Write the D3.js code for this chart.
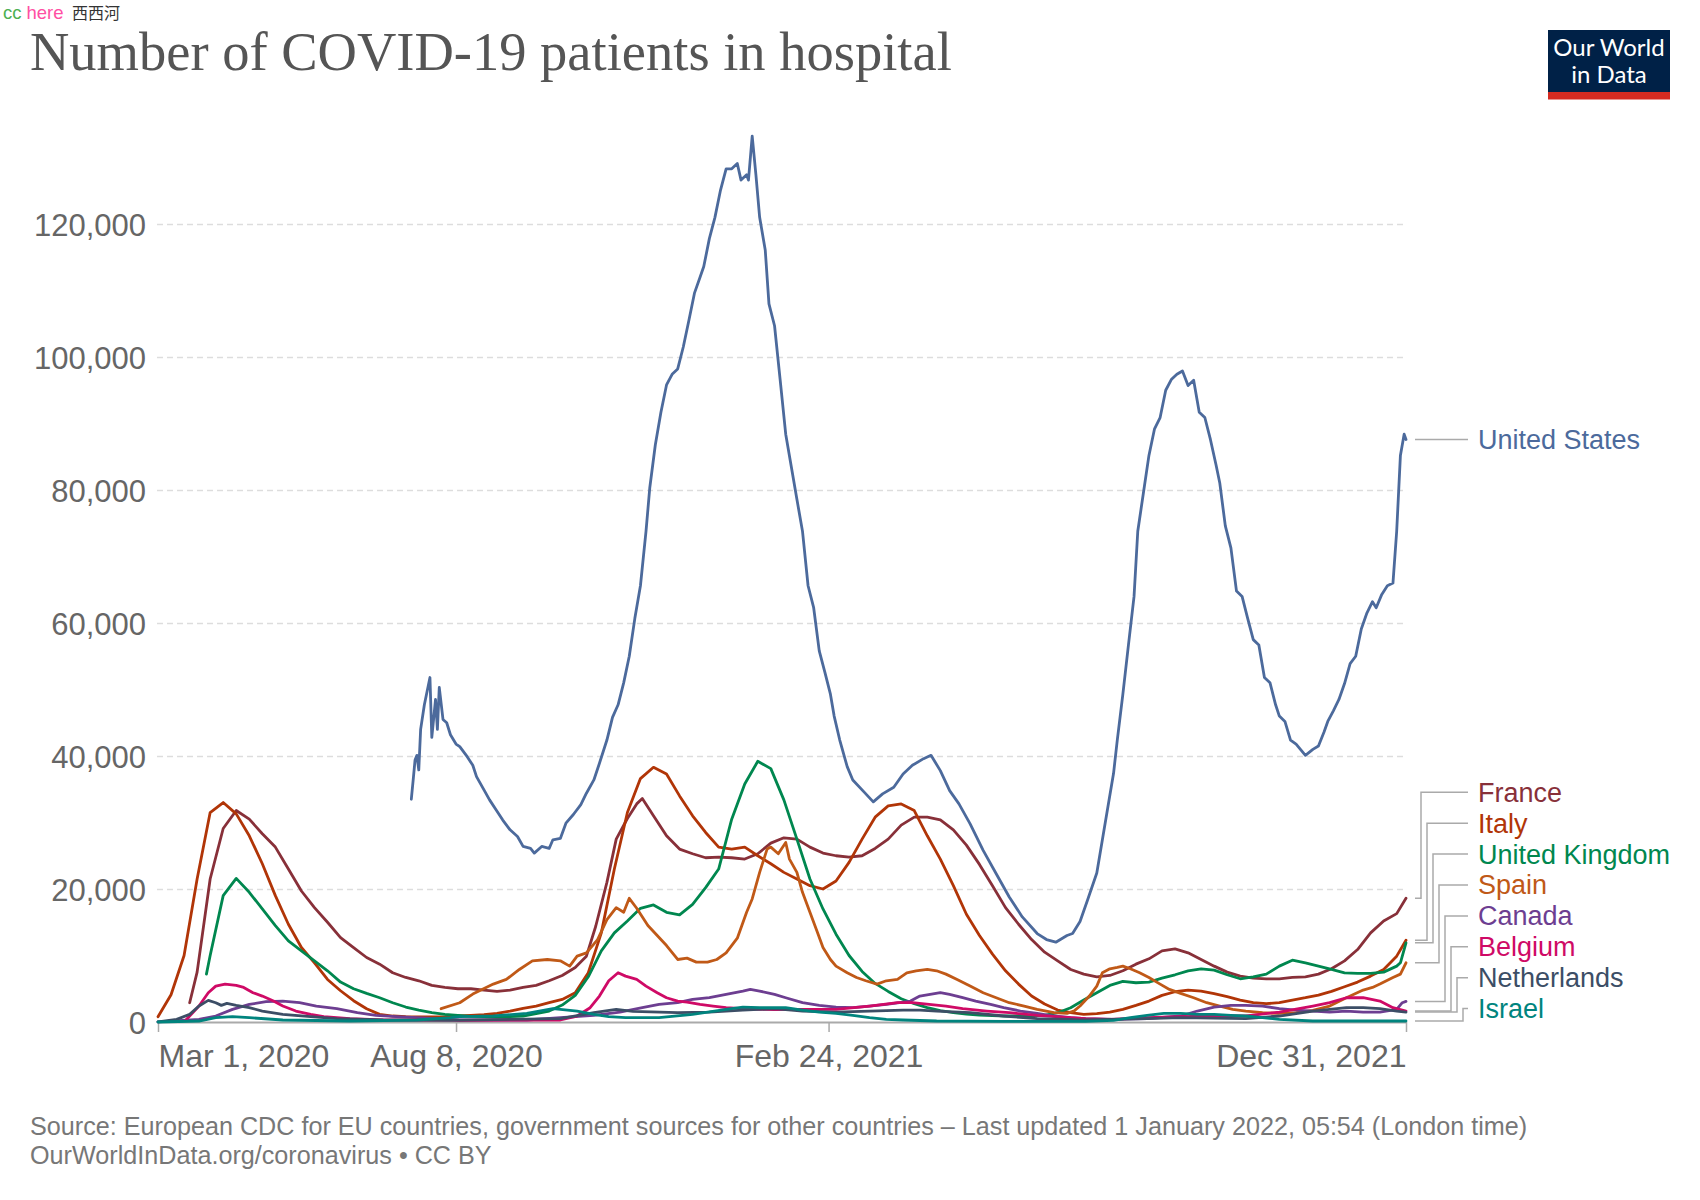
<!DOCTYPE html>
<html><head><meta charset="utf-8">
<script src="https://cdn.jsdelivr.net/npm/d3@7"></script>
<style>body{margin:0;background:#fff} svg{display:block;font-family:"Liberation Sans",Arial,sans-serif}</style>
</head><body>
<svg id="chart" width="1700" height="1200"></svg>
<script>
// ---------------- DATA ----------------
const startDate = "2020-03-01";
const endDate = "2021-12-31";
const xTickDates = ["2020-03-01", "2020-08-08", "2021-02-24", "2021-12-31"];
const xTickLabels = ["Mar 1, 2020", "Aug 8, 2020", "Feb 24, 2021", "Dec 31, 2021"];
const yTicks = [0, 20000, 40000, 60000, 80000, 100000, 120000];

// each point: [days since Mar 1, 2020, patients in hospital]
const unitedStates = [[136,33500],[137,36400],[138,39400],[139,40100],[140,37900],[141,44000],[143,47700],[146,51800],[147,42800],[149,48500],[150,44000],[151,50300],[153,45500],[155,45000],[157,43200],[160,41800],[162,41400],[166,39900],[169,38600],[171,36900],[175,34900],[178,33400],[182,31700],[185,30400],[189,28900],[193,27900],[196,26400],[200,26100],[202,25400],[206,26400],[210,26100],[212,27400],[216,27600],[219,29900],[223,31200],[227,32700],[230,34400],[234,36400],[237,38900],[241,42400],[244,45800],[247,47700],[250,51000],[253,55000],[256,60700],[259,65600],[262,73800],[264,80300],[267,86800],[270,91700],[273,95800],[276,97400],[279,98200],[282,101500],[285,105500],[288,109600],[291,112000],[293,113600],[296,117800],[299,121000],[302,125100],[305,128300],[308,128300],[311,129100],[313,126600],[316,127400],[317,126600],[319,133200],[321,127400],[323,121000],[326,116100],[328,108000],[331,104700],[334,96600],[337,88400],[340,83500],[343,78600],[346,73800],[349,65600],[352,62300],[355,55800],[358,52600],[361,49300],[363,46000],[366,42400],[370,38400],[373,36400],[379,34600],[384,33100],[389,34300],[395,35300],[400,37300],[405,38600],[411,39600],[415,40100],[420,37800],[425,34800],[430,32800],[436,29800],[443,25800],[450,22300],[457,18800],[464,15800],[472,13300],[477,12400],[482,12000],[488,13000],[491,13300],[495,15100],[499,18300],[504,22400],[507,27400],[510,32400],[513,37400],[515,42400],[518,49300],[521,56700],[524,64000],[526,73800],[529,79500],[532,85200],[535,89200],[538,90900],[541,95000],[544,96600],[547,97400],[550,97900],[553,95700],[556,96500],[559,91700],[562,90900],[565,87600],[568,83800],[570,81100],[573,74600],[576,71300],[579,64800],[582,64000],[585,60700],[588,57500],[591,56700],[594,51800],[597,51000],[600,47700],[602,46000],[605,45200],[608,42400],[611,41800],[616,40100],[620,41000],[623,41500],[626,43600],[628,45200],[631,46800],[634,48500],[637,50900],[640,53900],[643,55000],[646,59100],[649,61500],[652,63200],[654,62300],[657,64300],[660,65600],[663,66000],[665,73800],[667,85200],[669,88400],[670,87600]];

const france = [[17,2900],[21,7500],[28,21500],[35,29100],[42,31800],[49,30500],[56,28300],[63,26300],[70,23000],[77,19700],[84,17200],[91,15000],[98,12700],[105,11200],[112,9700],[119,8700],[126,7400],[133,6700],[140,6200],[147,5500],[154,5200],[161,5000],[168,5000],[175,4800],[182,4600],[189,4800],[196,5200],[203,5500],[210,6200],[217,7000],[224,8200],[230,9900],[235,14400],[241,21000],[246,27500],[252,30600],[257,32800],[260,33600],[266,31000],[273,28000],[280,26000],[287,25300],[294,24700],[301,24800],[308,24700],[315,24500],[322,25300],[329,26900],[336,27700],[343,27500],[350,26300],[357,25400],[364,25000],[371,24800],[378,25000],[385,26100],[392,27500],[399,29600],[406,30800],[413,30800],[420,30400],[427,28900],[434,26600],[441,23700],[448,20500],[455,17200],[462,14700],[469,12400],[476,10500],[483,9200],[490,7900],[497,7200],[504,6800],[511,7000],[518,7700],[525,8700],[532,9500],[539,10700],[546,11000],[553,10400],[560,9400],[567,8400],[574,7500],[581,6900],[588,6600],[595,6500],[602,6500],[609,6700],[616,6800],[623,7200],[630,8000],[637,9200],[644,10900],[651,13400],[658,15200],[665,16300],[670,18600]];

const italy = [[0,800],[7,4100],[14,10000],[21,21500],[28,31500],[35,33000],[42,31300],[49,28000],[56,23800],[63,19000],[70,14700],[77,11200],[84,8900],[91,6400],[98,4700],[105,3200],[112,2000],[119,1150],[126,900],[133,800],[140,780],[147,780],[154,800],[161,900],[168,1000],[175,1100],[182,1300],[189,1650],[196,2050],[203,2400],[210,2900],[217,3400],[224,4400],[231,7400],[238,13400],[245,23000],[252,31500],[259,36600],[266,38300],[273,37300],[280,34000],[287,31000],[294,28500],[301,26300],[308,26000],[315,26300],[322,25000],[329,23800],[336,22500],[343,21500],[350,20500],[357,20000],[364,21200],[371,24000],[378,27500],[385,30800],[392,32500],[399,32800],[406,31800],[413,28000],[420,24500],[427,20500],[434,16200],[441,13000],[448,10200],[455,7700],[462,5700],[469,3900],[476,2700],[483,1800],[490,1400],[497,1150],[504,1250],[511,1500],[518,1900],[525,2500],[532,3150],[539,4000],[546,4550],[553,4800],[560,4650],[567,4250],[574,3800],[581,3300],[588,2900],[595,2750],[602,2900],[609,3300],[616,3650],[623,4050],[630,4600],[637,5300],[644,6000],[651,6900],[658,7900],[665,9900],[670,12300]];

const unitedKingdom = [[26,7200],[28,10000],[35,19000],[42,21600],[49,19500],[56,17000],[63,14500],[70,12200],[77,10700],[84,9200],[91,7700],[98,6000],[105,5000],[112,4300],[119,3650],[126,2900],[133,2250],[140,1800],[147,1400],[154,1150],[161,1000],[168,850],[175,800],[182,750],[189,800],[196,900],[203,1250],[210,1650],[217,2550],[224,4000],[231,6800],[238,10700],[245,13400],[252,15200],[259,17100],[266,17600],[273,16500],[280,16100],[287,17700],[294,20200],[301,23000],[308,30500],[315,35800],[322,39200],[329,38100],[336,33400],[343,27500],[350,21500],[357,17000],[364,13200],[371,10000],[378,7600],[385,5800],[392,4600],[399,3500],[406,2750],[413,2150],[420,1700],[427,1400],[434,1200],[441,1050],[448,950],[455,900],[462,900],[469,900],[476,1000],[483,1400],[490,2150],[497,3300],[504,4400],[511,5500],[518,6100],[525,5900],[532,6000],[539,6600],[546,7100],[553,7700],[560,8000],[567,7800],[574,7100],[581,6500],[588,6800],[595,7200],[602,8400],[609,9300],[616,8900],[623,8400],[630,7900],[637,7400],[644,7300],[651,7300],[658,7500],[665,8400],[667,8900],[670,11900]];

const spain = [[152,2000],[162,2900],[169,4200],[180,5700],[187,6400],[194,7900],[201,9200],[209,9400],[216,9200],[221,8400],[225,9900],[230,10400],[236,12400],[241,15400],[246,17200],[250,16500],[253,18600],[257,17100],[263,14500],[268,13000],[273,11500],[279,9400],[284,9600],[289,9000],[295,9000],[300,9400],[305,10400],[311,12600],[316,16500],[319,18500],[323,22500],[327,26000],[329,26300],[333,25300],[337,27000],[339,24500],[343,22500],[346,19500],[350,16500],[354,13500],[357,11200],[361,9400],[364,8400],[370,7400],[375,6700],[380,6200],[386,5700],[391,6200],[397,6400],[402,7400],[407,7700],[413,7900],[418,7700],[423,7200],[429,6400],[436,5400],[443,4400],[450,3650],[457,2900],[465,2400],[472,1900],[481,1400],[488,1300],[492,1700],[495,2400],[500,3900],[504,5400],[507,7400],[511,8000],[515,8200],[518,8400],[522,8000],[527,7400],[532,6700],[538,5700],[543,4900],[549,4300],[556,3650],[563,2900],[570,2400],[577,1900],[584,1650],[593,1400],[602,1300],[611,1400],[620,1750],[629,2400],[638,3650],[647,4800],[652,5200],[656,5700],[663,6700],[667,7200],[670,8900]];

const canada = [[0,20],[22,400],[31,900],[40,1900],[49,2650],[58,3050],[67,3150],[76,2900],[85,2400],[96,2000],[107,1400],[117,1000],[128,800],[139,650],[157,400],[162,300],[198,300],[216,650],[234,1000],[248,1500],[260,2150],[269,2650],[279,2900],[287,3400],[296,3650],[305,4150],[314,4650],[318,4900],[323,4650],[331,4150],[337,3650],[346,2900],[355,2500],[364,2250],[373,2150],[382,2400],[391,2650],[404,3150],[409,3900],[420,4400],[425,4150],[432,3650],[439,3150],[447,2650],[454,2150],[463,1650],[472,1300],[481,900],[490,650],[498,500],[513,400],[531,500],[549,900],[558,1650],[567,2250],[576,2500],[584,2500],[593,2400],[602,2000],[611,1800],[620,1650],[629,1500],[638,1650],[647,1500],[656,1500],[665,1900],[668,2900],[670,3100]];

const belgium = [[15,300],[22,2400],[27,4400],[31,5400],[36,5700],[42,5500],[46,5200],[51,4400],[56,3900],[62,3150],[67,2400],[74,1650],[82,1150],[89,800],[103,500],[121,300],[157,300],[162,250],[216,300],[225,900],[232,2150],[237,3900],[242,6200],[247,7400],[251,6900],[257,6400],[262,5400],[268,4400],[273,3650],[279,3150],[284,3000],[291,2650],[298,2400],[305,2150],[314,2000],[323,1900],[331,1850],[346,1900],[364,1900],[382,2400],[397,2900],[405,2900],[414,2650],[423,2400],[432,2000],[445,1650],[457,1400],[472,1000],[490,650],[498,500],[512,400],[531,650],[549,800],[567,900],[584,900],[602,1500],[620,2400],[629,2900],[638,3650],[647,3650],[656,3150],[663,2150],[670,1650]];

const netherlands = [[0,20],[10,400],[17,1150],[22,2400],[27,3250],[31,2900],[34,2500],[37,2800],[42,2500],[49,2150],[56,1650],[67,1150],[82,800],[96,500],[121,300],[157,250],[216,500],[234,1400],[246,1900],[255,1600],[279,1400],[296,1500],[314,1800],[331,2000],[346,1650],[364,1500],[382,1650],[400,1800],[409,1800],[418,1650],[436,1400],[454,900],[472,500],[490,400],[495,300],[531,500],[549,650],[584,500],[602,900],[620,1650],[638,2150],[647,2150],[656,2000],[665,1650],[670,1500]];

const israel = [[0,0],[22,150],[31,650],[40,800],[49,650],[67,300],[103,150],[139,300],[157,650],[162,800],[180,900],[198,1300],[212,2000],[216,1900],[225,1650],[234,1150],[242,800],[251,650],[269,650],[287,1150],[305,1900],[314,2250],[323,2150],[331,2150],[337,2150],[346,1800],[355,1500],[364,1300],[373,1000],[382,650],[391,400],[400,300],[418,150],[454,100],[498,100],[513,250],[522,650],[531,1000],[540,1300],[549,1300],[558,1150],[567,1150],[576,1000],[584,900],[593,650],[602,400],[620,150],[670,150]];

const countryNames = ["United States", "France", "Italy", "United Kingdom", "Spain", "Canada", "Belgium", "Netherlands", "Israel"];
const countryColors = ["#4C6A9C", "#883039", "#B13507", "#00874F", "#C05917", "#6D3E91", "#CF0A66", "#3C4E66", "#00847E"];
const countryData = [unitedStates, france, italy, unitedKingdom, spain, canada, belgium, netherlands, israel];

const titleText = "Number of COVID-19 patients in hospital";
const sourceLine = "Source: European CDC for EU countries, government sources for other countries \u2013 Last updated 1 January 2022, 05:54 (London time)";
const licenseLine = "OurWorldInData.org/coronavirus \u2022 CC BY";

// ---------------- DRAWING ----------------
(function () {
const svg = d3.select("#chart");
const parse = d3.utcParse("%Y-%m-%d");
const t0 = parse(startDate);
const toDate = d => d3.utcDay.offset(t0, d);

const plotLeft = 158, plotRight = 1406, plotBottom = 1022, plotTop = 224;
const x = d3.scaleUtc().domain([t0, parse(endDate)]).range([plotLeft, plotRight]);
const y = d3.scaleLinear().domain([0, 120000]).range([plotBottom, plotTop]);

// watermark
const wm = svg.append("text").attr("x", 3).attr("y", 19).attr("font-size", 18.5);
wm.append("tspan").attr("fill", "#4CAF50").text("cc");
wm.append("tspan").attr("fill", "#FF4FA3").attr("dx", 5).text("here");
wm.append("tspan").attr("fill", "#333").attr("x", 72).attr("font-size", 16)
  .attr("font-family", "'Noto Sans CJK SC', sans-serif").text("西西河");

// title
const title = svg.append("text").attr("x", 30).attr("y", 70)
  .attr("font-family", "'Liberation Serif', 'DejaVu Serif', serif")
  .attr("font-size", 55).attr("fill", "#555").text(titleText);
{
  const w = title.node().getComputedTextLength();
  title.attr("font-size", 55 * 922 / w);
}

// logo
const logo = svg.append("g");
logo.append("rect").attr("x", 1548).attr("y", 30).attr("width", 122).attr("height", 62).attr("fill", "#002147");
logo.append("rect").attr("x", 1548).attr("y", 92).attr("width", 122).attr("height", 7.5).attr("fill", "#D42B21");
logo.append("text").attr("x", 1609).attr("y", 56).attr("text-anchor", "middle").attr("fill", "#fff")
  .attr("font-family", "Lato, sans-serif").attr("font-size", 24).text("Our World");
logo.append("text").attr("x", 1609).attr("y", 83).attr("text-anchor", "middle").attr("fill", "#fff")
  .attr("font-family", "Lato, sans-serif").attr("font-size", 24).text("in Data");

// y axis + gridlines
const yAxis = svg.append("g").attr("transform", `translate(${plotLeft - 1},0)`)
  .call(d3.axisLeft(y).tickValues(yTicks).tickFormat(d3.format(","))
    .tickSize(-(plotRight - plotLeft + 1)).tickPadding(11));
yAxis.select(".domain").remove();
yAxis.selectAll(".tick line").attr("stroke", "#ddd").attr("stroke-width", 1.5)
  .attr("stroke-dasharray", "6,4").filter(d => d === 0).remove();
yAxis.selectAll(".tick text").attr("font-size", 31).attr("fill", "#666")
  .attr("font-family", "'Liberation Sans', Arial, sans-serif").attr("dy", "0.36em");

// x axis
const xAxis = svg.append("g").attr("transform", `translate(0,${plotBottom})`)
  .call(d3.axisBottom(x).tickValues(xTickDates.map(parse))
    .tickFormat((d, i) => xTickLabels[i]).tickSize(10).tickSizeOuter(0).tickPadding(12));
xAxis.select(".domain").attr("stroke", "#aaa").attr("stroke-width", 2);
xAxis.selectAll(".tick line").attr("stroke", "#aaa").attr("stroke-width", 1.5);
xAxis.selectAll(".tick text").attr("font-size", 32).attr("fill", "#666")
  .attr("font-family", "'Liberation Sans', Arial, sans-serif")
  .attr("text-anchor", (d, i) => i === 0 ? "start" : (i === xTickLabels.length - 1 ? "end" : "middle"));

// lines
const line = d3.line().x(d => x(toDate(d[0]))).y(d => y(d[1]));
const plot = svg.append("g");
countryData.forEach((data, i) => {
  plot.append("path").datum(data).attr("d", line)
    .attr("fill", "none").attr("stroke", countryColors[i])
    .attr("stroke-width", 2.8).attr("stroke-linejoin", "round").attr("stroke-linecap", "round");
});

// labels + connectors
const labelX = 1478, connStart = 1415, connEnd = 1468;
const lab = svg.append("g").attr("font-size", 27).attr("font-family", "'Liberation Sans', Arial, sans-serif");
{
  const last = unitedStates[unitedStates.length - 1];
  const yy = y(last[1]);
  lab.append("line").attr("x1", connStart).attr("x2", connEnd).attr("y1", yy).attr("y2", yy)
    .attr("stroke", "#aaa").attr("stroke-width", 1.5);
  lab.append("text").attr("x", labelX).attr("y", yy).attr("dy", "0.35em")
    .attr("fill", countryColors[0]).text(countryNames[0]);
}
const stackTop = 792.3, stackStep = 30.9, vxStart = 1421, vxStep = 6;
for (let k = 1; k < countryNames.length; k++) {
  const data = countryData[k];
  const last = data[data.length - 1];
  const yEnd = y(last[1]);
  const yLab = stackTop + (k - 1) * stackStep;
  const vx = vxStart + (k - 1) * vxStep;
  lab.append("path").attr("d", `M${connStart},${yEnd}H${vx}V${yLab}H${connEnd}`)
    .attr("fill", "none").attr("stroke", "#aaa").attr("stroke-width", 1.5);
  lab.append("text").attr("x", labelX).attr("y", yLab).attr("dy", "0.35em")
    .attr("fill", countryColors[k]).text(countryNames[k]);
}

// footer
const f1 = svg.append("text").attr("x", 30).attr("y", 1135).attr("font-size", 22).attr("fill", "#777").text(sourceLine);
{
  const w = f1.node().getComputedTextLength();
  f1.attr("font-size", 22 * 1498 / w);
}
svg.append("text").attr("x", 30).attr("y", 1164).attr("font-size", f1.attr("font-size")).attr("fill", "#777").text(licenseLine);
})();
</script>
</body></html>
